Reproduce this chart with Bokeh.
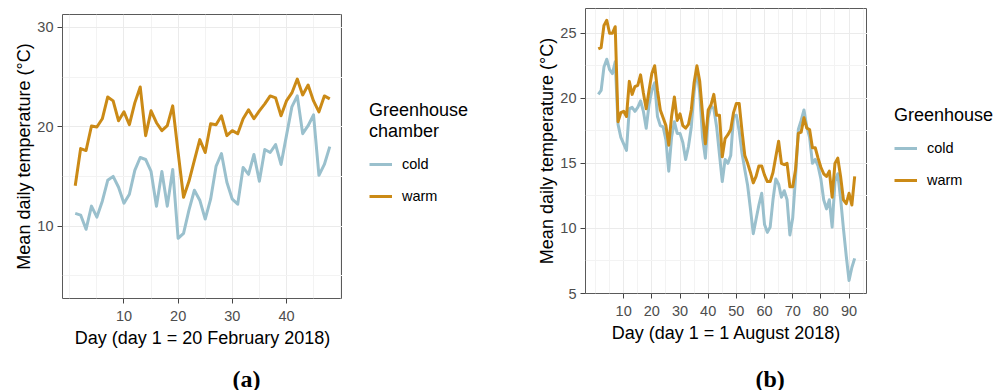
from bokeh.plotting import figure
from bokeh.models import FixedTicker, Legend, LegendItem, Title
from bokeh.layouts import row
from bokeh.embed import file_html
from bokeh.resources import INLINE

# ---------------- data ----------------
days_a = list(range(1, 49))
cold_a = [11.27, 11.1, 9.67, 12.0, 10.9, 12.5, 14.6, 15.0, 13.9, 12.3,
          13.2, 15.6, 16.9, 16.7, 15.5, 12.0, 15.5, 12.0, 15.7, 8.76,
          9.26, 11.6, 13.6, 12.6, 10.7, 12.7, 16.0, 17.3, 14.4, 12.7,
          12.2, 15.9, 15.2, 17.2, 14.5, 17.7, 17.4, 18.2, 16.2, 19.1,
          22.0, 23.1, 19.3, 20.1, 21.2, 15.1, 16.2, 18.0]
warm_a = [14.05, 17.8, 17.6, 20.07, 19.97, 20.8, 23.0, 22.6, 20.6, 21.5,
          20.2, 22.4, 24.0, 19.1, 21.6, 20.4, 19.6, 20.1, 22.1, 17.4,
          12.9, 14.5, 16.6, 18.7, 17.4, 20.3, 20.2, 21.1, 19.1, 19.6,
          19.3, 20.8, 21.7, 20.8, 21.6, 22.3, 23.1, 22.9, 21.1, 22.6,
          23.4, 24.8, 23.2, 24.2, 22.6, 21.5, 23.1, 22.8]

days_b = list(range(1, 93))
cold_b = [20.3, 20.6, 22.4, 23.0, 22.2, 21.9, 22.8, 18.0, 17.0, 16.5,
          16.0, 19.2, 19.3, 19.0, 19.3, 19.8, 19.0, 17.7, 19.5, 20.6,
          21.2, 18.6, 17.9, 17.8, 16.8, 14.4, 17.0, 18.2, 17.3, 17.3,
          16.6, 15.3, 16.3, 17.8, 20.5, 22.2, 20.4, 17.0, 15.4, 18.5,
          19.4, 19.2, 17.8, 15.7, 13.6, 15.3, 15.0, 15.6, 18.6, 18.7,
          17.5, 15.8, 14.5, 13.3, 11.5, 9.6, 10.7, 11.8, 12.7, 10.3,
          9.7, 10.1, 12.2, 13.8, 13.4, 12.4, 12.9, 12.2, 9.5, 10.8,
          13.9, 17.6, 18.3, 19.1, 17.8, 17.0, 15.0, 15.3, 14.8, 13.8,
          12.2, 11.5, 12.2, 10.1, 13.6, 14.2, 12.3, 10.0, 7.9, 6.0,
          7.0, 7.7]
warm_b = [23.8, 23.9, 25.6, 26.0, 25.0, 25.0, 25.5, 18.2, 18.9, 19.0,
          18.6, 21.3, 20.3, 20.9, 21.0, 21.8, 20.4, 19.2, 20.6, 21.9,
          22.5, 20.6, 19.1, 18.5, 17.9, 16.4, 18.6, 20.1, 18.3, 18.8,
          17.9, 17.7, 18.0, 19.1, 21.2, 22.5, 21.3, 18.8, 16.5, 19.1,
          19.5, 20.3, 18.7, 18.7, 15.5, 16.9, 17.2, 17.6, 18.9, 19.6,
          19.6, 17.5, 15.6, 15.0, 14.3, 13.5, 14.0, 14.8, 14.8, 14.1,
          13.6, 13.6, 14.3, 15.5, 16.7, 15.0, 14.9, 15.0, 13.2, 13.2,
          14.5, 17.3, 17.4, 18.5, 17.7, 17.6, 16.2, 16.2, 15.4, 14.7,
          14.2, 14.0, 14.4, 12.4, 15.0, 15.4, 14.0, 12.2, 11.9, 12.7,
          11.8, 14.0]

x_ticks_a = [10, 20, 30, 40]
x_minor_a = [0, 5, 15, 25, 35, 45, 50]
y_ticks_a = [10, 20, 30]
y_minor_a = [5, 15, 25]
x_ticks_b = [10, 20, 30, 40, 50, 60, 70, 80, 90]
x_minor_b = [0, 5, 15, 25, 35, 45, 55, 65, 75, 85, 95]
y_ticks_b = [5, 10, 15, 20, 25]
y_minor_b = [7.5, 12.5, 17.5, 22.5]

series_names = ["cold", "warm"]
COLD = "#9AC0CD"
WARM = "#CB8A16"
FONT = "Liberation Sans"
H = 390


def make_panel(days, cold, warm, x_range, y_range, xt, xm, yt, ym,
               xlabel, tag, borders, fw, fh, gap):
    left, right, top, bottom = borders
    p = figure(frame_width=fw, frame_height=fh,
               min_border_left=left, min_border_right=right,
               min_border_top=top, min_border_bottom=bottom,
               x_range=x_range, y_range=y_range, frame_align=False,
               output_backend="svg", toolbar_location=None)
    p.background_fill_color = "white"
    p.border_fill_color = "white"
    p.outline_line_color = "#5A5A5A"
    p.outline_line_width = 1

    p.line(days, cold, line_color=COLD, line_width=3, line_join="round")
    p.line(days, warm, line_color=WARM, line_width=3, line_join="round")

    p.xaxis.ticker = FixedTicker(ticks=xt, minor_ticks=xm)
    p.yaxis.ticker = FixedTicker(ticks=yt, minor_ticks=ym)
    for ax in (p.xaxis[0], p.yaxis[0]):
        ax.axis_line_color = None
        ax.major_tick_line_color = "#444444"
        ax.major_tick_out = 5
        ax.major_tick_in = 0
        ax.minor_tick_line_color = None
        ax.major_label_text_font = FONT
        ax.major_label_text_font_size = "14.5px"
        ax.major_label_text_color = "#4D4D4D"
        ax.axis_label_text_font = FONT
        ax.axis_label_text_font_size = "18px"
        ax.axis_label_text_font_style = "normal"
        ax.axis_label_text_color = "black"
    p.xaxis.major_label_standoff = 7
    p.xaxis.axis_label_standoff = 4
    p.yaxis.major_label_standoff = 4
    p.yaxis.axis_label_standoff = 0
    p.xaxis.axis_label = xlabel
    p.yaxis.axis_label = "Mean daily temperature (°C)"

    for g in (p.xgrid[0], p.ygrid[0]):
        g.grid_line_color = "#EBEBEB"
        g.grid_line_width = 1
        g.minor_grid_line_color = "#F3F3F3"
        g.minor_grid_line_width = 1

    # thin blank spacer between the axis title and the panel tag
    p.add_layout(Title(text=" ", text_font_size="1px", standoff=gap), "below")
    p.add_layout(Title(text=tag, align="left", offset=170,
                       text_font="Liberation Serif", text_font_size="24px",
                       text_font_style="bold", text_color="black",
                       standoff=0),
                 "below")
    return p


def make_legend(width, top, days, cold, warm, legend_title):
    # a small key panel; its lines carry the real series but lie outside its view
    q = figure(width=width, height=H, min_border_left=0, min_border_right=0,
               min_border_bottom=0, min_border_top=top,
               x_range=(-20, -10), y_range=(-20, -10), frame_align=False,
               x_axis_location=None, y_axis_location=None,
               output_backend="svg", toolbar_location=None)
    q.outline_line_color = None
    q.grid.visible = False
    q.background_fill_color = "white"
    q.border_fill_color = "white"
    r_cold = q.line(days, cold, line_color=COLD, line_width=3)
    r_warm = q.line(days, warm, line_color=WARM, line_width=3)
    legend = Legend(items=[LegendItem(label=series_names[0], renderers=[r_cold]),
                           LegendItem(label=series_names[1], renderers=[r_warm])],
                    location="top_left", title=legend_title)
    legend.title_text_font = FONT
    legend.title_text_font_size = "18px"
    legend.title_text_font_style = "normal"
    legend.title_text_color = "black"
    legend.title_standoff = 12
    legend.label_text_font = FONT
    legend.label_text_font_size = "14.5px"
    legend.label_text_color = "black"
    legend.glyph_width = 23
    legend.glyph_height = 20
    legend.label_height = 20
    legend.label_standoff = 10
    legend.spacing = 12
    legend.padding = 0
    legend.margin = 27
    legend.background_fill_alpha = 0
    legend.border_line_alpha = 0
    q.add_layout(legend)
    return q


p1 = make_panel(days_a, cold_a, warm_a, (-1.35, 50.35), (2.7, 31.3),
                x_ticks_a, x_minor_a, y_ticks_a, y_minor_a,
                "Day (day 1 = 20 February 2018)", "(a)",
                (62, 0, 14, 92), 280, 284, 9.8)
la = make_legend(188, 73, days_a, cold_a, warm_a, "Greenhouse\nchamber")
p2 = make_panel(days_b, cold_b, warm_b, (-3.55, 96.55), (5.0, 26.9),
                x_ticks_b, x_minor_b, y_ticks_b, y_minor_b,
                "Day (day 1 = 1 August 2018)", "(b)",
                (55, 0, 8, 97), 282, 285, 14.8)
lb = make_legend(139, 78, days_b, cold_b, warm_b, "Greenhouse")

layout = row(p1, la, p2, lb)
open("out.html", "w").write(file_html(layout, INLINE))
